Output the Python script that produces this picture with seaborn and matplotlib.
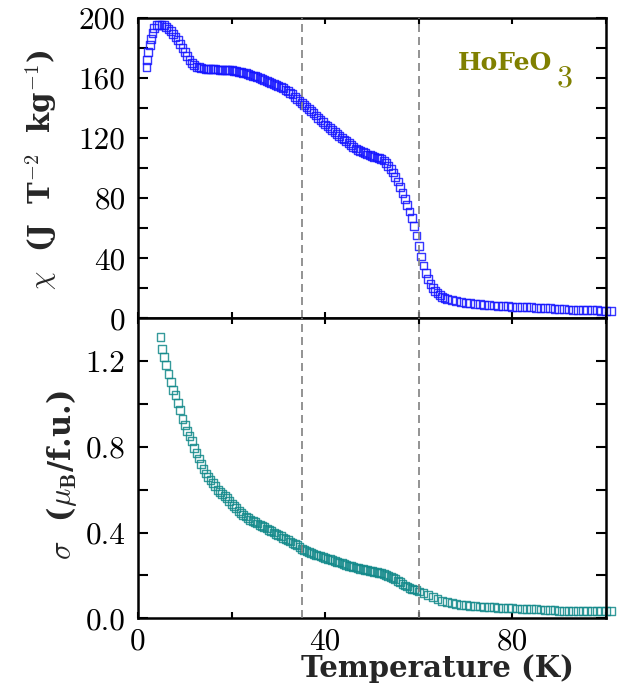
import matplotlib
matplotlib.use("Agg")
import matplotlib.pyplot as plt
import numpy as np
import pandas as pd
import seaborn as sns

# Susceptibility chi(T) of HoFeO3, J T^-2 kg^-1
chi_temp = [1.8, 2.0, 2.2, 2.5, 2.8, 3.1, 3.5, 4.0, 4.5, 5.0, 5.5, 6.0, 6.5, 7.0,
            7.5, 8.0, 8.5, 9.0, 9.5, 10.0, 10.5, 11.0, 11.5, 12.0, 12.5, 13.0,
            13.5, 14.0, 14.5, 15.0, 15.5, 16.0, 16.5, 17.0, 17.5, 18.0, 18.5,
            19.0, 19.5, 20.0, 20.5, 21.0, 21.5, 22.0, 22.5, 23.0, 23.5, 24.0,
            24.5, 25.0, 25.5, 26.0, 26.5, 27.0, 27.5, 28.0, 28.5, 29.0, 29.5,
            30.0, 30.5, 31.0, 31.5, 32.0, 32.5, 33.0, 33.5, 34.0, 34.5, 35.0,
            35.5, 36.0, 36.5, 37.0, 37.5, 38.0, 38.5, 39.0, 39.5, 40.0, 40.5,
            41.0, 41.5, 42.0, 42.5, 43.0, 43.5, 44.0, 44.5, 45.0, 45.5, 46.0,
            46.5, 47.0, 47.5, 48.0, 48.5, 49.0, 49.5, 50.0, 50.5, 51.0, 51.5,
            52.0, 52.5, 53.0, 53.5, 54.0, 54.5, 55.0, 55.5, 56.0, 56.5, 57.0,
            57.5, 58.0, 58.5, 59.0, 59.5, 60.0, 60.5, 61.0, 61.5, 62.0, 62.5,
            63.0, 63.5, 64.0, 64.5, 65.0, 65.5, 66.0, 67, 68, 69, 70, 71, 72,
            73, 74, 75, 76, 77, 78, 79, 80, 81, 82, 83, 84, 85, 86, 87, 88, 89,
            90, 91, 92, 93, 94, 95, 96, 97, 98, 99, 100, 101]
chi_vals = [167, 172, 177, 182, 186, 190, 193, 195, 195.5, 195.5, 195, 194,
            192.5, 191, 189, 187, 185, 182.5, 180, 177, 174.5, 172, 170, 168.5,
            167.5, 167, 166.5, 166.3, 166.1, 166, 165.9, 165.8, 165.7, 165.6,
            165.5, 165.4, 165.3, 165.2, 165.1, 165, 164.8, 164.5, 164.2, 164,
            163.5, 163, 162.5, 162, 161.5, 161, 160.5, 160, 159.4, 158.8, 158.2,
            157.5, 156.8, 156, 155.3, 154.5, 153.8, 153, 152, 151, 150, 149,
            147.5, 146, 144.5, 143, 141.8, 140.5, 139.2, 138, 136.5, 135, 133.5,
            132, 130.5, 129, 127.8, 126.5, 125.2, 124, 122.8, 121.5, 120.2, 119,
            117.8, 116.5, 115.2, 114, 113, 112, 111.2, 110.5, 109.8, 109, 108.5,
            108, 107.5, 107, 106.5, 106, 105, 103.5, 101.5, 99.5, 97, 94, 91,
            87.5, 83.5, 79.5, 75.5, 71, 66.5, 61.5, 55, 48, 41, 35, 30, 26,
            22.5, 20, 18, 16.5, 15.3, 14.3, 13.5, 12.8, 12, 11.3, 10.6, 10.1,
            9.8, 9.5, 9.2, 8.9, 8.6, 8.4, 8.2, 8.0, 7.8, 7.6, 7.4, 7.3, 7.2, 7.1,
            7.0, 6.9, 6.8, 6.6, 6.3, 6.0, 5.8, 5.7, 5.6, 5.5, 5.4, 5.3, 5.2, 5.1,
            5.0, 5.0, 5.0]

# Net moment sigma(T), mu_B per formula unit
sig_temp = [4.8, 5.1, 5.5, 6.0, 6.5, 7.0, 7.5, 8.0, 8.5, 9.0, 9.5, 10.0, 10.5,
            11.0, 11.5, 12.0, 12.5, 13.0, 13.5, 14.0, 14.5, 15.0, 15.5, 16.0,
            16.5, 17.0, 17.5, 18.0, 18.5, 19.0, 19.5, 20.0, 20.5, 21.0, 21.5,
            22.0, 22.5, 23.0, 23.5, 24.0, 24.5, 25.0, 25.5, 26.0, 26.5, 27.0,
            27.5, 28.0, 28.5, 29.0, 29.5, 30.0, 30.5, 31.0, 31.5, 32.0, 32.5,
            33.0, 33.5, 34.0, 34.5, 35.0, 35.5, 36.0, 36.5, 37.0, 37.5, 38.0,
            38.5, 39.0, 39.5, 40.0, 40.5, 41.0, 41.5, 42.0, 42.5, 43.0, 43.5,
            44.0, 44.5, 45.0, 45.5, 46.0, 46.5, 47.0, 47.5, 48.0, 48.5, 49.0,
            49.5, 50.0, 50.5, 51.0, 51.5, 52.0, 52.5, 53.0, 53.5, 54.0, 54.5,
            55.0, 55.5, 56.0, 56.5, 57.0, 57.5, 58.0, 58.5, 59.0, 59.5, 60.0,
            61, 62, 63, 64, 65, 66, 67, 68, 69, 70, 71, 72, 73, 74, 75, 76, 77,
            78, 79, 80, 81, 82, 83, 84, 85, 86, 87, 88, 89, 90, 91, 92, 93, 94,
            95, 96, 97, 98, 99, 100, 101]
sig_vals = [1.31, 1.255, 1.22, 1.18, 1.14, 1.10, 1.065, 1.04, 1.005, 0.97,
            0.93, 0.90, 0.875, 0.85, 0.825, 0.795, 0.77, 0.745, 0.72, 0.695,
            0.675, 0.66, 0.645, 0.63, 0.615, 0.60, 0.59, 0.58, 0.57, 0.56,
            0.547, 0.535, 0.525, 0.515, 0.502, 0.49, 0.482, 0.475, 0.467, 0.46,
            0.455, 0.45, 0.442, 0.435, 0.43, 0.425, 0.419, 0.413, 0.406, 0.40,
            0.395, 0.39, 0.382, 0.375, 0.37, 0.365, 0.358, 0.352, 0.346, 0.34,
            0.332, 0.325, 0.32, 0.315, 0.31, 0.305, 0.301, 0.297, 0.293, 0.29,
            0.286, 0.282, 0.278, 0.275, 0.271, 0.268, 0.264, 0.26, 0.256,
            0.252, 0.248, 0.245, 0.242, 0.24, 0.237, 0.234, 0.231, 0.229,
            0.226, 0.224, 0.221, 0.219, 0.217, 0.215, 0.212, 0.21, 0.207,
            0.203, 0.198, 0.193, 0.188, 0.182, 0.175, 0.168, 0.16, 0.153,
            0.148, 0.143, 0.138, 0.134, 0.13, 0.125, 0.117, 0.108, 0.098,
            0.09, 0.082, 0.075, 0.07, 0.066, 0.063, 0.061, 0.059, 0.057, 0.055,
            0.053, 0.052, 0.051, 0.05, 0.049, 0.048, 0.047, 0.046, 0.045,
            0.044, 0.043, 0.042, 0.041, 0.038, 0.037, 0.037, 0.036, 0.036,
            0.036, 0.036, 0.036, 0.036, 0.036, 0.036, 0.036, 0.036, 0.036,
            0.036]

transition_temps = [35, 60]

x_ticks = [0, 20, 40, 60, 80, 100]
x_tick_labels = ["0", "", "40", "", "80", ""]
chi_ticks = [0, 20, 40, 60, 80, 100, 120, 140, 160, 180, 200]
chi_tick_labels = ["0", "", "40", "", "80", "", "120", "", "160", "", "200"]
sig_ticks = [0.0, 0.2, 0.4, 0.6, 0.8, 1.0, 1.2, 1.4]
sig_tick_labels = ["0.0", "", "0.4", "", "0.8", "", "1.2", ""]

chi_df = pd.DataFrame({"T": chi_temp, "chi": chi_vals})
sig_df = pd.DataFrame({"T": sig_temp, "sigma": sig_vals})

sns.set_theme(style="ticks")
plt.rcParams.update({
    "font.family": ["cmr10", "DejaVu Serif"],
    "mathtext.fontset": "cm",
    "axes.formatter.use_mathtext": True,
    "axes.linewidth": 1.8,
    "axes.edgecolor": "black",
})

fig = plt.figure(figsize=(6.19, 6.87), dpi=100)
ax1 = fig.add_axes([0.223, 0.537, 0.756, 0.437])
ax2 = fig.add_axes([0.223, 0.100, 0.756, 0.437], sharex=ax1)

sns.scatterplot(data=chi_df, x="T", y="chi", ax=ax1, marker="s", s=32,
                facecolor="none", edgecolor="#1414ff", linewidth=1.0,
                alpha=0.85, clip_on=False, zorder=2, legend=False)
sns.scatterplot(data=sig_df, x="T", y="sigma", ax=ax2, marker="s", s=32,
                facecolor="none", edgecolor="#12898a", linewidth=1.0,
                alpha=0.85, clip_on=False, zorder=2, legend=False)

for ax in (ax1, ax2):
    for t in transition_temps:
        ax.axvline(t, color="#808080", lw=1.2, dashes=(4.8, 3.0), zorder=3)
    ax.set_xlim(0, 100)
    ax.set_xticks(x_ticks)
    ax.tick_params(axis="both", direction="in", top=True, right=True,
                   width=1.5, labelsize=22.5, colors="black")
    ax.tick_params(axis="x", length=4.5, pad=7)
    ax.tick_params(axis="y", length=7.5, pad=9)
    for sp in ax.spines.values():
        sp.set_linewidth(1.8)

ax1.set_ylim(0, 200)
ax1.set_yticks(chi_ticks)
ax1.set_yticklabels(chi_tick_labels)
ax1.tick_params(axis="x", labelbottom=False)
ax1.set_xlabel("")

ax2.set_ylim(0, 1.4)
ax2.set_yticks(sig_ticks)
ax2.set_yticklabels(sig_tick_labels)
ax2.set_xticklabels(x_tick_labels)

label_font = dict(family="DejaVu Serif", weight="bold")
ax1.set_ylabel(r"$\chi$  (J  T$^{\mathbf{-2}}$  kg$^{\mathbf{-1}}$)",
               fontsize=21, **label_font)
ax2.set_ylabel(r"$\sigma$  ($\mu_{\mathbf{B}}$/f.u.)", fontsize=22,
               **label_font)
ax2.set_xlabel("Temperature (K)", fontsize=21, **label_font)
ax1.yaxis.set_label_coords(-0.168, 0.493)
ax2.yaxis.set_label_coords(-0.126, 0.477)
ax2.xaxis.set_label_coords(0.64, -0.12)

ax1.text(68.4, 165.3, "HoFeO", color="#808000", family="DejaVu Serif",
         weight="bold", fontsize=18, va="baseline", ha="left")
ax1.text(89.4, 154.0, "3", color="#808000", family="cmr10",
         fontsize=23, va="baseline", ha="left")

fig.savefig("out.png", dpi=100)
